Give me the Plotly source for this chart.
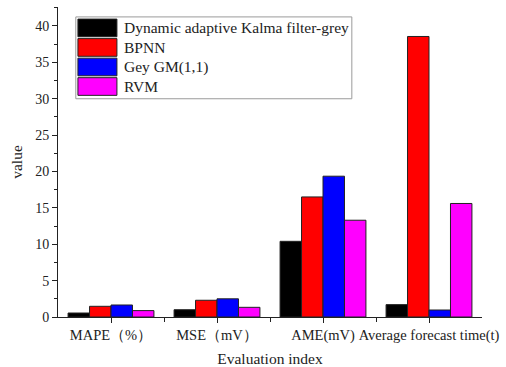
import plotly.graph_objects as go

# Evaluation indices on the x axis
categories = ["MAPE（%）", "MSE（mV）", "AME(mV)", "Average forecast time(t)"]

# Model names and their scores per index
series_names = ["Dynamic adaptive Kalma filter-grey", "BPNN", "Gey GM(1,1)", "RVM"]
kalman_vals = [0.55, 1.0, 10.4, 1.7]
bpnn_vals = [1.47, 2.3, 16.5, 38.55]
gm_vals = [1.65, 2.5, 19.35, 0.96]
rvm_vals = [0.88, 1.33, 13.3, 15.6]

colors = ["#000000", "#ff0000", "#0000ff", "#ff00ff"]
y_ticks = [0, 5, 10, 15, 20, 25, 30, 35, 40]

FONT = "Liberation Serif, Times New Roman, serif"
positions = list(range(len(categories)))

fig = go.Figure()
for name, vals, col in zip(series_names, [kalman_vals, bpnn_vals, gm_vals, rvm_vals], colors):
    fig.add_trace(go.Bar(
        x=positions, y=vals, name=name,
        marker=dict(color=col, line=dict(color="#222222", width=1)),
        showlegend=False,
    ))

# Hand-drawn legend box with large colour swatches
shapes = []
annotations = []
box_x0, box_x1 = 0.042, 0.693
box_y1 = 0.968
row_h = 0.063
shapes.append(dict(type="rect", xref="paper", yref="paper",
                   x0=box_x0, x1=box_x1, y0=box_y1 - 4 * row_h - 0.012, y1=box_y1,
                   line=dict(color="#9a9a9a", width=1), fillcolor="white", layer="above"))
for i, (name, col) in enumerate(zip(series_names, colors)):
    top = box_y1 - 0.007 - i * row_h
    shapes.append(dict(type="rect", xref="paper", yref="paper",
                       x0=0.047, x1=0.139, y0=top - row_h + 0.006, y1=top,
                       line=dict(color="#222222", width=1), fillcolor=col, layer="above"))
    annotations.append(dict(xref="paper", yref="paper", x=0.151, y=top - row_h / 2 + 0.003,
                            text=name, showarrow=False, xanchor="left", yanchor="middle",
                            font=dict(family=FONT, size=15.5, color="#222222")))

fig.update_layout(
    width=506, height=367,
    margin=dict(l=58, r=24, t=7, b=50),
    paper_bgcolor="white", plot_bgcolor="white",
    barmode="group", bargap=0.19, bargroupgap=0,
    font=dict(family=FONT, size=14, color="#222222"),
    shapes=shapes, annotations=annotations,
    xaxis=dict(
        range=[-0.5, 3.5], tickmode="array", tickvals=positions, ticktext=categories,
        showline=True, linecolor="#222222", linewidth=1,
        ticks="outside", ticklen=5, tickcolor="#222222",
        minor=dict(tickmode="array", tickvals=[0.5, 1.5, 2.5], ticks="outside",
                   ticklen=4, tickcolor="#222222"),
        showgrid=False, zeroline=False, automargin=False,
        title=dict(text="Evaluation index", font=dict(family=FONT, size=15.5)),
        tickfont=dict(family=FONT, size=14.5),
    ),
    yaxis=dict(
        range=[0, 42.6], tickvals=y_ticks,
        showline=True, linecolor="#222222", linewidth=1,
        ticks="outside", ticklen=5, tickcolor="#222222",
        minor=dict(dtick=2.5, ticks="outside", ticklen=3, tickcolor="#222222"),
        showgrid=False, zeroline=False,
        title=dict(text="value", font=dict(family=FONT, size=15.5), standoff=8),
        tickfont=dict(family=FONT, size=14),
    ),
)

fig.write_html("out.html")
